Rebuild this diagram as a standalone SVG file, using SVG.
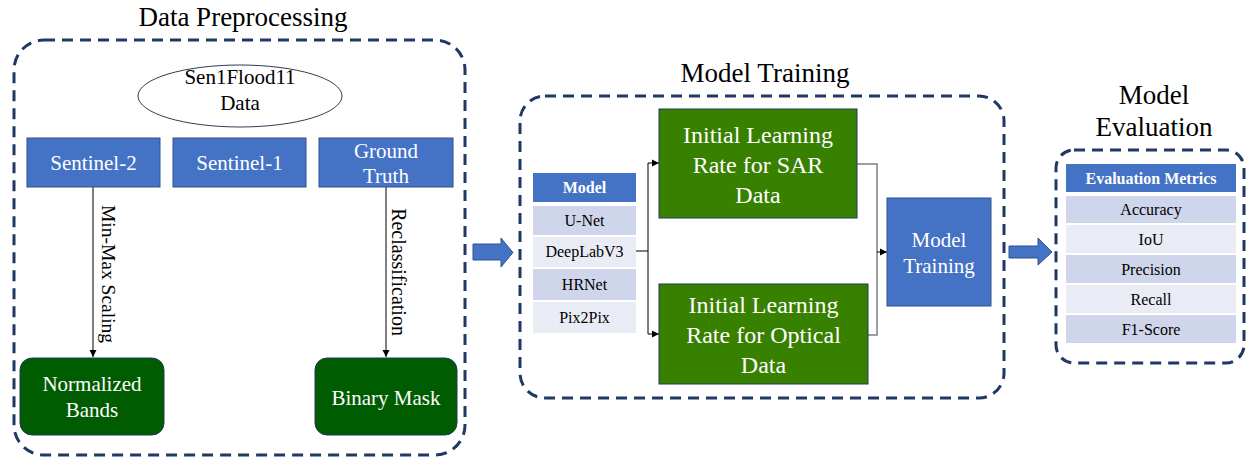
<svg xmlns="http://www.w3.org/2000/svg" width="1258" height="458" viewBox="0 0 1258 458" font-family="'Liberation Serif', 'Times New Roman', serif">
<defs>
<style>
text{font-family:"Liberation Serif","Times New Roman",serif;}
.title{font-family:"Liberation Serif","Times New Roman",serif;font-size:27px;fill:#000;text-anchor:middle;}
.group{fill:none;stroke:#1F3864;stroke-width:3;stroke-dasharray:11 7;}
.blue{fill:#4472C4;stroke:#2F528F;stroke-width:1;}
.green{fill:#388000;stroke:#23395B;stroke-width:1;}
.dgreen{fill:#005C00;stroke:#23395B;stroke-width:1;}
.wt{font-family:"Liberation Serif","Times New Roman",serif;fill:#fff;text-anchor:middle;}
.bt{font-family:"Liberation Serif","Times New Roman",serif;fill:#000;text-anchor:middle;font-size:16px;}
.hd{font-family:"Liberation Serif","Times New Roman",serif;fill:#fff;text-anchor:middle;font-size:16px;font-weight:bold;}
.lbl{font-family:"Liberation Serif","Times New Roman",serif;fill:#000;text-anchor:middle;}
.r1{fill:#CFD5EA;}
.r2{fill:#E9EBF5;}
.line{fill:none;stroke:#000;stroke-width:1;}
.gline{fill:none;stroke:#808080;stroke-width:1.5;}
.barrow{fill:#4472C4;stroke:#2F528F;stroke-width:1;}
</style>
<marker id="ah" markerWidth="8" markerHeight="8" refX="7" refY="4" orient="auto" markerUnits="userSpaceOnUse">
<path d="M0,0.5 L7,4 L0,7.5 Z" fill="#000"/>
</marker>
</defs>

<!-- group titles and containers -->
<text class="title" x="243" y="26">Data Preprocessing</text>
<rect class="group" x="14" y="40" width="451" height="415" rx="30" ry="30"/>
<text class="title" x="765" y="82">Model Training</text>
<rect class="group" x="520" y="96" width="484" height="302" rx="25" ry="25"/>
<text class="title" x="1154" y="104">Model</text>
<text class="title" x="1154" y="136">Evaluation</text>
<rect class="group" x="1056" y="150" width="188" height="213" rx="18" ry="18"/>

<g id="connectors">
<line class="line" x1="93" y1="187" x2="93" y2="357" marker-end="url(#ah)"/>
<line class="line" x1="386" y1="187" x2="386" y2="357" marker-end="url(#ah)"/>
<text class="lbl" transform="translate(108,274) rotate(90)" dominant-baseline="central" font-size="19.5">Min-Max Scaling</text>
<text class="lbl" transform="translate(399,272) rotate(90)" dominant-baseline="central" font-size="20">Reclassification</text>
<path class="line" d="M636,251 H648"/>
<path class="line" d="M648,163 V334"/>
<path class="line" d="M648,163 H659" marker-end="url(#ah)"/>
<path class="line" d="M648,334 H659" marker-end="url(#ah)"/>
<path class="gline" d="M857,164 H877 V335 H868"/>
<path class="line" d="M877,252 H887" marker-end="url(#ah)"/>
<path class="barrow" d="M473,244 H501 V238 L513,252.5 L501,267 V260 H473 Z"/>
<path class="barrow" d="M1009,246 H1038 V238 L1052,252 L1038,265 V258 H1009 Z"/>
</g>

<g id="sen1flood11">
<ellipse cx="240" cy="96" rx="102" ry="31" fill="#fff" stroke="#2F3B52" stroke-width="1"/>
<text class="bt" x="240" y="84" style="font-size:21px">Sen1Flood11</text>
<text class="bt" x="240" y="110" style="font-size:21px">Data</text>
</g>
<g id="sentinel2">
<rect class="blue" x="27" y="138" width="133" height="49"/>
<text class="wt" x="93.5" y="170" font-size="21">Sentinel-2</text>
</g>
<g id="sentinel1">
<rect class="blue" x="173" y="138" width="133" height="49"/>
<text class="wt" x="239.5" y="170" font-size="21">Sentinel-1</text>
</g>
<g id="groundtruth">
<rect class="blue" x="319" y="138" width="134" height="49"/>
<text class="wt" x="386" y="158" font-size="21">Ground</text>
<text class="wt" x="386" y="183" font-size="21">Truth</text>
</g>
<g id="normalized">
<rect class="dgreen" x="20" y="358" width="144" height="77" rx="12" ry="12"/>
<text class="wt" x="92" y="391" font-size="21">Normalized</text>
<text class="wt" x="92" y="417" font-size="21">Bands</text>
</g>
<g id="binarymask">
<rect class="dgreen" x="315" y="358" width="142" height="77" rx="12" ry="12"/>
<text class="wt" x="386" y="405" font-size="21">Binary Mask</text>
</g>

<g id="modeltable">
<rect x="533" y="173" width="103" height="29" fill="#4472C4"/>
<text class="hd" x="584.5" y="193">Model</text>
<rect class="r1" x="533" y="206" width="103" height="29"/>
<text class="bt" x="584.5" y="226">U-Net</text>
<rect class="r2" x="533" y="237" width="103" height="30"/>
<text class="bt" x="584.5" y="257">DeepLabV3</text>
<rect class="r1" x="533" y="269" width="103" height="31"/>
<text class="bt" x="584.5" y="290">HRNet</text>
<rect class="r2" x="533" y="302" width="103" height="31"/>
<text class="bt" x="584.5" y="323">Pix2Pix</text>
</g>

<g id="lr-sar">
<rect class="green" x="659" y="109" width="198" height="109"/>
<text class="wt" x="758" y="143" font-size="24">Initial Learning</text>
<text class="wt" x="758" y="173" font-size="24">Rate for SAR</text>
<text class="wt" x="758" y="203" font-size="24">Data</text>
</g>
<g id="lr-optical">
<rect class="green" x="659" y="284" width="209" height="100"/>
<text class="wt" x="763.5" y="313" font-size="24">Initial Learning</text>
<text class="wt" x="763.5" y="343" font-size="24">Rate for Optical</text>
<text class="wt" x="763.5" y="373" font-size="24">Data</text>
</g>
<g id="modeltraining">
<rect class="blue" x="887" y="198" width="104" height="108"/>
<text class="wt" x="939" y="247" font-size="21">Model</text>
<text class="wt" x="939" y="273" font-size="21">Training</text>
</g>

<g id="evaltable">
<rect x="1066" y="164" width="170" height="28" fill="#4472C4"/>
<text class="hd" x="1151" y="184">Evaluation Metrics</text>
<rect class="r1" x="1066" y="196" width="170" height="27"/>
<text class="bt" x="1151" y="215">Accuracy</text>
<rect class="r2" x="1066" y="225" width="170" height="28"/>
<text class="bt" x="1151" y="245">IoU</text>
<rect class="r1" x="1066" y="255" width="170" height="28"/>
<text class="bt" x="1151" y="275">Precision</text>
<rect class="r2" x="1066" y="285" width="170" height="28"/>
<text class="bt" x="1151" y="305">Recall</text>
<rect class="r1" x="1066" y="315" width="170" height="28"/>
<text class="bt" x="1151" y="335">F1-Score</text>
</g>
</svg>
